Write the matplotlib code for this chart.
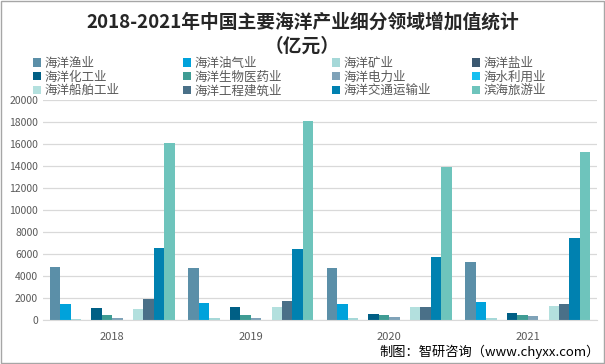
import matplotlib
matplotlib.use("Agg")
import matplotlib.pyplot as plt
import numpy as np

plt.rcParams["font.family"] = ["Noto Sans CJK SC", "DejaVu Sans"]

YEARS = ["2018", "2019", "2020", "2021"]
SERIES = ["海洋渔业", "海洋油气业", "海洋矿业", "海洋盐业",
          "海洋化工业", "海洋生物医药业", "海洋电力业", "海水利用业",
          "海洋船舶工业", "海洋工程建筑业", "海洋交通运输业", "滨海旅游业"]
VALUES = [
    [4801, 4715, 4712, 5297],      # 渔业
    [1477, 1541, 1494, 1618],      # 油气
    [71, 194, 190, 180],           # 矿业
    [39, 31, 33, 34],              # 盐业
    [1119, 1157, 532, 617],        # 化工
    [413, 443, 451, 494],          # 生物医药
    [172, 199, 237, 329],          # 电力
    [17, 18, 19, 24],              # 海水利用
    [997, 1182, 1147, 1264],       # 船舶
    [1905, 1732, 1190, 1432],      # 工程建筑
    [6522, 6427, 5711, 7466],      # 交通运输
    [16078, 18086, 13924, 15297],  # 滨海旅游
]
COLORS = ["#5b8fa8", "#00a2db", "#a5d8d8", "#3b5870", "#005f85", "#3f9c94",
          "#7fa2b8", "#17bff0", "#b3e0de", "#4a7088", "#0081b0", "#6ec4bc"]

fig = plt.figure(figsize=(6.05, 3.64), dpi=100)
ax = fig.add_axes([43 / 605, 1 - 320 / 364, (597 - 43) / 605, 220 / 364])

n = len(SERIES)
w = 0.075
x = np.arange(len(YEARS))
handles = []
for i, (name, vals, c) in enumerate(zip(SERIES, VALUES, COLORS)):
    b = ax.bar(x + (i - (n - 1) / 2) * w, vals, width=w, color=c, label=name, zorder=2)
    handles.append(b)

ax.set_xlim(-0.5, len(YEARS) - 0.5)
ax.set_ylim(0, 20000)
ax.set_yticks(range(0, 20001, 2000))
ax.set_xticks(x)
ax.set_xticklabels(YEARS)
ax.grid(axis="y", color="#d9d9d9", linewidth=0.9, zorder=0)
for s in ["top", "right", "left"]:
    ax.spines[s].set_visible(False)
ax.spines["bottom"].set_color("#d9d9d9")
ax.tick_params(length=0, labelsize=7.5, colors="#595959")
ax.tick_params(axis="x", pad=9, labelsize=8)

fig.text(0.5, 1 - 22 / 364, "2018-2021年中国主要海洋产业细分领域增加值统计",
         ha="center", va="center", fontsize=13.5, fontweight="bold", color="#262626")
fig.text(0.5, 1 - 46 / 364, "（亿元）", ha="center", va="center",
         fontsize=13.5, fontweight="bold", color="#262626")

# legend laid out row by row, one legend per column
col_x = [33, 183, 332, 472]
for col in range(4):
    idx = [col, col + 4, col + 8]
    fig.legend([handles[i] for i in idx], [SERIES[i] for i in idx], loc="upper left",
               bbox_to_anchor=(col_x[col] / 605, 1 - 57 / 364), frameon=False,
               fontsize=9, labelcolor="#595959", handlelength=0.65, handleheight=0.65,
               handletextpad=0.3, labelspacing=0.05, borderaxespad=0, borderpad=0)

fig.text(0.992, 1 - 352 / 364, "制图：智研咨询（www.chyxx.com）", ha="right",
         va="center", fontsize=9.5, color="#000000")

fig.patches.append(plt.Rectangle((0.001, 0.002), 0.997, 0.996, transform=fig.transFigure,
                                 fill=False, edgecolor="#a6a6a6", linewidth=1))

fig.savefig("out.png", dpi=100)
